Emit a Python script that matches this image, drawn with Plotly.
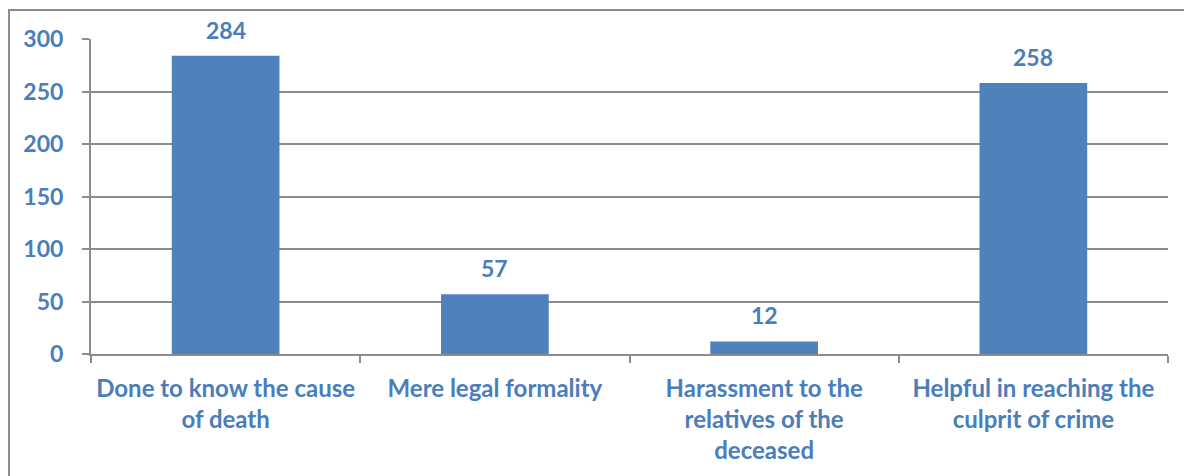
import plotly.graph_objects as go

categories = ["Done to know the cause<br>of death", "Mere legal formality",
              "Harassment to the<br>relatives of the<br>deceased",
              "Helpful in reaching the<br>culprit of crime"]
values = [284, 57, 12, 258]
y_ticks = [0, 50, 100, 150, 200, 250, 300]

BLUE = "#4F81BD"
TXT = "#4A7EBB"
GRID = "#8C8C8C"
FONT = "Lato, Open Sans, sans-serif"

fig = go.Figure(go.Bar(
    x=categories, y=values, width=0.4, marker=dict(color=BLUE, line=dict(width=0)),
))

for c, v in zip(categories, values):
    fig.add_annotation(x=c, y=v, text=f"<b>{v}</b>", showarrow=False, yanchor="middle",
                       yshift=26, font=dict(family=FONT, size=23, color=TXT))

fig.update_layout(
    width=1184, height=476,
    margin=dict(l=91, r=16, t=39, b=122),
    paper_bgcolor="white", plot_bgcolor="white",
    showlegend=False, bargap=0.6,
    font=dict(family=FONT, color=TXT),
)
fig.update_xaxes(
    showline=True, linecolor=GRID, linewidth=2, ticks="outside", tickson="boundaries",
    ticklen=7, tickcolor=GRID, tickwidth=2, showgrid=False,
    tickfont=dict(family=FONT, size=24, color=TXT, weight="bold"), ticklabelstandoff=12,
)
fig.update_yaxes(
    range=[0, 300], tickvals=y_ticks, showgrid=True, gridcolor=GRID, gridwidth=1.5,
    showline=True, linecolor=GRID, linewidth=2, ticks="outside", ticklen=7,
    tickcolor=GRID, tickwidth=1.5, zeroline=False,
    tickfont=dict(family=FONT, size=23, color=TXT, weight="bold"), ticklabelstandoff=14,
)

# outer frame of the original figure (cropped at right/bottom)
fig.add_shape(type="path", xref="paper", yref="paper",
              path="M -0.0761,-0.5 L -0.0761,1.092 L 1.1,1.092",
              line=dict(color="#8C8C8C", width=2))

fig.write_html("out.html")
